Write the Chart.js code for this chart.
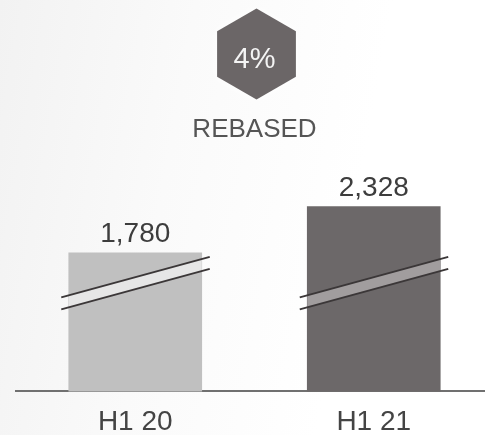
<!DOCTYPE html>
<html>
<head>
<meta charset="utf-8">
<script src="https://cdn.jsdelivr.net/npm/chart.js@4"></script>
<style>
  html, body { margin: 0; padding: 0; }
  body {
    width: 485px; height: 435px; overflow: hidden;
    background: linear-gradient(100deg, #f2f2f2 0%, #fafafa 35%, #ffffff 70%);
  }
  #wrap { width: 493px; height: 435px; }
</style>
</head>
<body>
<div id="wrap"><canvas id="rebasedChart" width="493" height="435"></canvas></div>
<script>
const periods = ['H1 20', 'H1 21'];
const rebasedValues = [1780, 2328];
const barColors = ['#c0c0c0', '#6c6869'];
const breakBandColors = ['#e6e6e6', '#a19d9e'];
const growthBadge = '4%';
const chartTitle = 'REBASED';

const FONT = "'Liberation Sans', Arial, sans-serif";

// hexagon badge with the growth figure, above the title
const hexBadge = {
    id: 'hexBadge',
    afterDraw(chart) {
        const { ctx, chartArea } = chart;
        const cx = (chartArea.left + chartArea.right) / 2 + 2;
        const cy = 54;
        const r = 45.5;
        ctx.save();
        ctx.beginPath();
        for (let i = 0; i < 6; i++) {
            const a = Math.PI / 2 + i * Math.PI / 3;
            const x = cx + r * Math.cos(a), y = cy - r * Math.sin(a);
            i === 0 ? ctx.moveTo(x, y) : ctx.lineTo(x, y);
        }
        ctx.closePath();
        ctx.shadowColor = 'rgba(255,255,255,0.9)';
        ctx.shadowBlur = 12;
        ctx.fillStyle = '#6b6667';
        ctx.fill();
        ctx.shadowBlur = 0;
        ctx.fillStyle = '#f4f4f4';
        ctx.font = '29px ' + FONT;
        ctx.textAlign = 'center';
        ctx.textBaseline = 'alphabetic';
        ctx.fillText(growthBadge, cx - 2, cy + 13.5);
        ctx.restore();
    }
};

// diagonal break marks across each bar, then value labels on top
const barDecor = {
    id: 'barDecor',
    afterDatasetsDraw(chart) {
        const { ctx, chartArea } = chart;
        const bars = chart.getDatasetMeta(0).data;
        const y0 = chartArea.bottom - 94;
        const rise = 40.5, gap = 12;
        ctx.save();
        bars.forEach((bar, i) => {
            const left = bar.x - bar.width / 2, right = bar.x + bar.width / 2;
            const x1 = left - 7.5, x2 = right + 8;
            const slope = -rise / (x2 - x1);
            const yAt = x => y0 + (x - x1) * slope;

            ctx.save();
            ctx.beginPath();
            ctx.rect(left, bar.y, bar.width, bar.base - bar.y);
            ctx.clip();
            ctx.beginPath();
            ctx.moveTo(x1, yAt(x1));
            ctx.lineTo(x2, yAt(x2));
            ctx.lineTo(x2, yAt(x2) + gap);
            ctx.lineTo(x1, yAt(x1) + gap);
            ctx.closePath();
            ctx.fillStyle = breakBandColors[i];
            ctx.fill();
            ctx.restore();

            ctx.strokeStyle = '#3b3738';
            ctx.lineWidth = 2;
            [0, gap].forEach(off => {
                ctx.beginPath();
                ctx.moveTo(x1, yAt(x1) + off);
                ctx.lineTo(x2, yAt(x2) + off);
                ctx.stroke();
            });

            ctx.fillStyle = '#3d3d3d';
            ctx.font = '28px ' + FONT;
            ctx.textAlign = 'center';
            ctx.textBaseline = 'alphabetic';
            ctx.fillText(rebasedValues[i].toLocaleString('en-US'), bar.x, bar.y - 10.5);
        });
        ctx.restore();
    }
};

new Chart(document.getElementById('rebasedChart').getContext('2d'), {
    type: 'bar',
    data: {
        labels: periods,
        datasets: [{ data: rebasedValues, backgroundColor: barColors, borderWidth: 0, barThickness: 133 }]
    },
    options: {
        responsive: false,
        devicePixelRatio: 1,
        animation: false,
        layout: { padding: { left: 16, top: 100, right: 0, bottom: 0 } },
        plugins: {
            legend: { display: false },
            tooltip: { enabled: false },
            title: {
                display: true,
                text: chartTitle,
                color: '#555555',
                font: { family: FONT, size: 26, weight: 'normal' },
                padding: { top: 14, bottom: 10 }
            }
        },
        scales: {
            x: {
                grid: { display: false, drawTicks: false },
                border: { display: true, color: '#707070', width: 2 },
                ticks: { color: '#444444', padding: 14, font: { family: FONT, size: 28 } },
                afterFit(scale) { scale.height -= 18; }
            },
            y: { display: false, min: 140, max: 2935 }
        }
    },
    plugins: [hexBadge, barDecor]
});
</script>
</body>
</html>
